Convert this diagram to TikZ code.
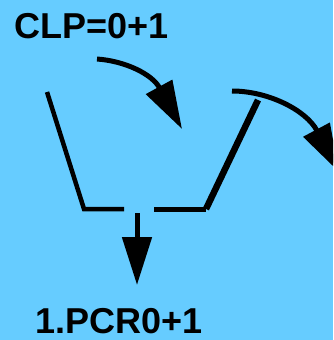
\documentclass[tikz,border=0pt]{standalone}
\usepackage{fontspec}
\setmainfont{Liberation Sans}
\usetikzlibrary{arrows.meta}
\definecolor{skyblue}{RGB}{102,204,255}
\tikzset{
    big-label/.style = {anchor=base west, inner sep=0pt, font=\fontsize{36}{40}\selectfont\bfseries},
    bucket-line/.style = {draw=black, line width=5pt, line join=miter},
    flow-arrow/.style = {draw=black, line width=5pt, -{Triangle[length=48pt, width=29pt]}},
}

\begin{document}
\begin{tikzpicture}[x=1pt, y=-1pt]
\useasboundingbox (0,0) rectangle (333,340);
\fill[skyblue] (0,0) rectangle (333,340);
\clip (0,0) rectangle (333,340);

% labels
\node[big-label] (clp) at (14,38) {CLP=0+1};
\node[big-label] (pcr) at (35,333) {1.PCR0+1};

% the bucket
\coordinate (left-top) at (47,92);
\coordinate (left-bottom) at (84,209);
\coordinate (left-gap) at (124,209);
\coordinate (right-gap) at (154,209);
\coordinate (right-bottom) at (206,209);
\coordinate (right-top) at (258,100);
\draw[bucket-line, line width=4.5pt] (left-top) -- (left-bottom) -- (left-gap);
\draw[bucket-line] (right-gap) -- (right-bottom);
\draw[bucket-line, line width=6.5pt] (right-bottom) -- (right-top);

% arrows
\coordinate (in-start) at (97,59);
\coordinate (in-end) at (182,129);
\coordinate (out-start) at (232,91);
\coordinate (out-end) at (339,172);
\coordinate (drop-start) at (137,213);
\coordinate (drop-end) at (137,285);
\draw[flow-arrow] (in-start) .. controls (125,61) and (152,74) .. (in-end);
\draw[flow-arrow] (out-start) .. controls (268,91) and (306,110) .. (out-end);
\draw[flow-arrow] (drop-start) -- (drop-end);
\end{tikzpicture}
\end{document}
